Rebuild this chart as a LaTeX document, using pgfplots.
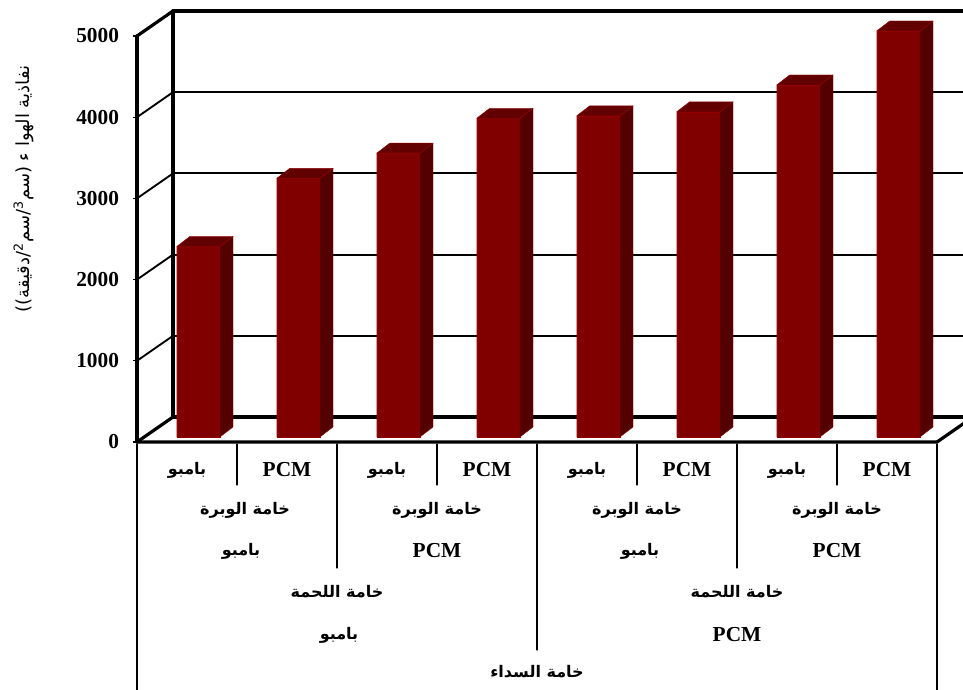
\documentclass[border=0pt]{standalone}
\usepackage{pgfplots}
\usepackage{pgfplotstable}
\pgfplotsset{compat=1.18}
\usepackage{fontspec}
\setmainfont{Liberation Serif}
\newfontfamily\arabicfont[Script=Arabic]{DejaVu Sans}
\TeXXeTstate=1
\definecolor{barfront}{RGB}{128,0,0}
\definecolor{barside}{RGB}{84,0,0}
\definecolor{bartop}{RGB}{98,0,0}
\pgfplotstableread{
i v
0 2345
1 3185
2 3495
3 3925
4 3955
5 4005
6 4335
7 5000
}\bardata
\newcommand{\ar}[1]{{\arabicfont\bfseries\beginR #1\endR}}
\tikzset{pix/.style={shift={(0pt,516.75pt)}, x=0.75pt, y=-0.75pt}}
\begin{document}
\begin{tikzpicture}
% ---- 3D frame (walls, floor, gridlines) ----
\begin{scope}[pix, line cap=round]
  \foreach \k in {1,2,3,4}{
    \draw[line width=1.4pt] (173,{417-81.2*\k}) -- (975,{417-81.2*\k});
    \draw[line width=1.4pt] (137,{442-81.2*\k}) -- (173,{417-81.2*\k});
  }
  \draw[line width=2.4pt] (173,417) -- (975,417);
  \draw[line width=2.4pt] (173,11) -- (975,11);
  \draw[line width=2.4pt] (173,11) -- (173,417);
  \draw[line width=2.4pt] (137,36) -- (173,11);
  \draw[line width=2.4pt] (137,442) -- (173,417);
  \draw[line width=2.4pt] (137,36) -- (137,442);
  \draw[line width=2.4pt] (137,442) -- (937,442) -- (973,417);
  % category separators
  \draw[line width=0.8pt] (137,444) -- (137,690);
  \draw[line width=0.8pt] (937,444) -- (937,690);
  \foreach \x in {237,437,637,837} \draw[line width=0.8pt] (\x,444) -- (\x,485);
  \foreach \x in {337,737} \draw[line width=0.8pt] (\x,444) -- (\x,568);
  \draw[line width=0.8pt] (537,444) -- (537,650);
\end{scope}
\begin{axis}[
  at={(102.75pt,185.25pt)}, anchor=south west,
  scale only axis, width=600pt, height=304.5pt,
  xmin=-0.5, xmax=7.5, ymin=0, ymax=5000,
  clip=false,
  axis line style={draw=none},
  xtick=\empty,
  ytick={0,1000,2000,3000,4000,5000},
  ytick pos=left,
  tick align=outside,
  major tick length=3pt,
  tick style={black, line width=1pt},
  /pgf/number format/assume math mode=true,
  /pgf/number format/1000 sep={},
  yticklabel style={font=\bfseries\fontsize{16}{16}\selectfont, xshift=-7pt},
]
\pgfplotsinvokeforeach{0,...,7}{
  \pgfplotstablegetelem{#1}{v}\of\bardata
  \pgfmathsetmacro\vtop{62+\pgfplotsretval}
  \pgfmathsetmacro\vbk{185+\pgfplotsretval}
  \pgfmathsetmacro\xa{#1-0.103}
  \pgfmathsetmacro\xb{#1+0.33}
  \pgfmathsetmacro\xc{#1+0.46}
  \pgfmathsetmacro\xd{#1+0.027}
  \edef\temp{%
    \noexpand\addplot[fill=barfront, draw=barfront!85!red, line width=0.3pt] coordinates {(\xa,62) (\xb,62) (\xb,\vtop) (\xa,\vtop) (\xa,62)};
    \noexpand\addplot[fill=barside, draw=barfront!85!red, line width=0.3pt] coordinates {(\xb,62) (\xc,185) (\xc,\vbk) (\xb,\vtop) (\xb,62)};
    \noexpand\addplot[fill=bartop, draw=barfront!85!red, line width=0.3pt] coordinates {(\xa,\vtop) (\xb,\vtop) (\xc,\vbk) (\xd,\vbk) (\xa,\vtop)};
  }\temp
}
\end{axis}
% ---- labels ----
\begin{scope}[pix]
  \node[rotate=90, font=\arabicfont\fontsize{13.5}{13.5}\selectfont] at (24,189)
    {\beginR نفاذية الهوا ء (سم\textsuperscript{3}/سم\textsuperscript{2}/دقيقة))\endR};
  \foreach \x in {187,387,587,787}
    \node[font=\fontsize{12}{12}\selectfont] at (\x,470) {\ar{بامبو}};
  \foreach \x in {287,487,687,887}
    \node[font=\bfseries\fontsize{16}{16}\selectfont] at (\x,470) {PCM};
  \foreach \x in {245,437,637,837}
    \node[font=\fontsize{12}{12}\selectfont] at (\x,510) {\ar{خامة الوبرة}};
  \node[font=\fontsize{12}{12}\selectfont] at (241,551) {\ar{بامبو}};
  \node[font=\bfseries\fontsize{16}{16}\selectfont] at (437,551) {PCM};
  \node[font=\fontsize{12}{12}\selectfont] at (640,551) {\ar{بامبو}};
  \node[font=\bfseries\fontsize{16}{16}\selectfont] at (837,551) {PCM};
  \node[font=\fontsize{12}{12}\selectfont] at (337,592) {\ar{خامة اللحمة}};
  \node[font=\fontsize{12}{12}\selectfont] at (737,592) {\ar{خامة اللحمة}};
  \node[font=\fontsize{12}{12}\selectfont] at (339,635) {\ar{بامبو}};
  \node[font=\bfseries\fontsize{16}{16}\selectfont] at (737,635) {PCM};
  \node[font=\fontsize{12}{12}\selectfont] at (537,672) {\ar{خامة السداء}};
\end{scope}
\pgfresetboundingbox
\path[use as bounding box] (0,0) rectangle (722.25pt,516.75pt);
\end{tikzpicture}
\end{document}
